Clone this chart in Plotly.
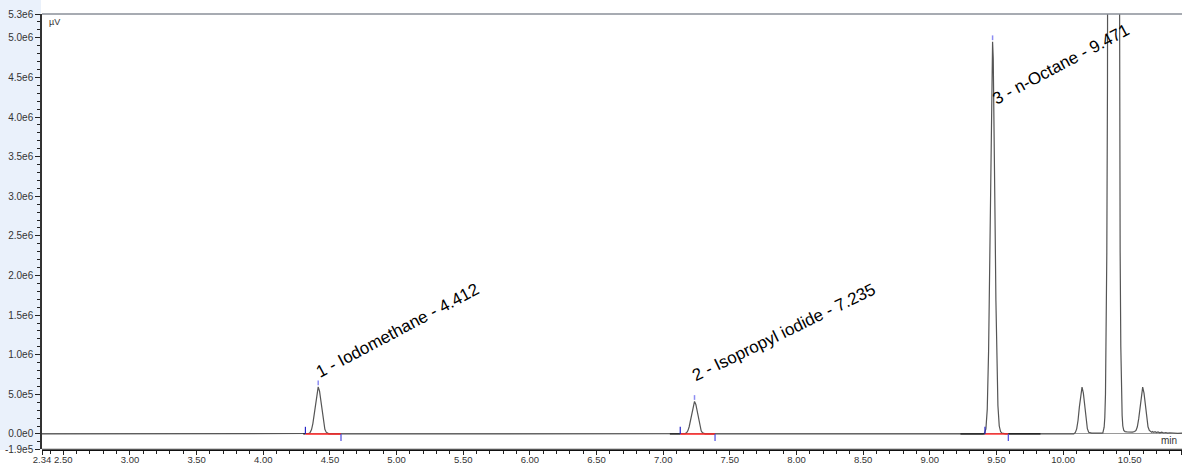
import plotly.graph_objects as go

# ---------------- data ----------------
time_min = [
    2.34, 4.30,
    4.332, 4.342, 4.352, 4.362, 4.372, 4.382, 4.392, 4.402, 4.412, 4.422, 4.432, 4.442, 4.452, 4.462, 4.472, 4.482, 4.492, 4.51,
    7.14, 7.155, 7.165, 7.175, 7.185, 7.195, 7.205, 7.215, 7.225, 7.235, 7.245, 7.255, 7.265, 7.275, 7.285, 7.295, 7.305, 7.315, 7.33,
    9.40, 9.411, 9.421, 9.431, 9.436, 9.441, 9.446, 9.451, 9.456, 9.461, 9.466, 9.471, 9.476, 9.481, 9.486, 9.491, 9.496, 9.501,
    9.506, 9.511, 9.521, 9.531, 9.541, 9.555, 9.57,
    10.08, 10.082, 10.092, 10.102, 10.112, 10.122, 10.132, 10.142, 10.152, 10.162, 10.172, 10.182, 10.192, 10.202, 10.215,
    10.29, 10.298, 10.308, 10.313, 10.318, 10.323, 10.328, 10.333, 10.338, 10.343, 10.348, 10.358, 10.368, 10.378, 10.388,
    10.398, 10.408, 10.413, 10.418, 10.423, 10.428, 10.433, 10.438, 10.443, 10.448, 10.455, 10.465, 10.48, 10.52,
    10.537, 10.547, 10.557, 10.567, 10.577, 10.587, 10.597, 10.607, 10.617, 10.627, 10.637, 10.647, 10.657,
    10.665, 10.672, 10.68, 10.69, 10.70, 10.712, 10.725, 10.74, 10.755, 10.77, 10.785, 10.80, 10.82, 10.84, 10.86, 10.90,
]
signal_e6 = [
    0.0, 0.0,
    0.001, 0.006, 0.020, 0.056, 0.131, 0.253, 0.406, 0.540, 0.593, 0.540, 0.406, 0.253, 0.131, 0.058, 0.022, 0.008, 0.002, 0.0,
    0.0, 0.001, 0.004, 0.014, 0.039, 0.091, 0.175, 0.281, 0.373, 0.410, 0.373, 0.281, 0.175, 0.091, 0.040, 0.015, 0.005, 0.001, 0.0,
    0.0, 0.01, 0.065, 0.31, 0.594, 1.04, 1.68, 2.48, 3.36, 4.16, 4.74, 4.95, 4.74, 4.16, 3.36, 2.48, 1.68, 1.06,
    0.62, 0.36, 0.10, 0.03, 0.01, 0.003, 0.0,
    0.0, 0.004, 0.018, 0.064, 0.170, 0.339, 0.514, 0.590, 0.514, 0.339, 0.170, 0.066, 0.022, 0.012, 0.010,
    0.010, 0.012, 0.085, 0.21, 0.50, 1.10, 2.29, 4.42, 7.96, 13.4, 21.0, 42.0, 63.6, 73.0, 63.6,
    42.0, 21.0, 13.4, 7.96, 4.42, 2.29, 1.10, 0.52, 0.23, 0.10, 0.045, 0.030, 0.025, 0.024,
    0.030, 0.045, 0.090, 0.190, 0.350, 0.515, 0.590, 0.515, 0.350, 0.190, 0.090, 0.045, 0.030,
    0.022, 0.030, 0.020, 0.028, 0.018, 0.026, 0.015, 0.022, 0.012, 0.018, 0.010, 0.015, 0.010, 0.013, 0.008, 0.010,
]
signal_uv = [v * 1e6 for v in signal_e6]

peak_names = ["Iodomethane", "Isopropyl iodide", "n-Octane"]
peak_rt = [4.412, 7.235, 9.471]
peak_apex = [0.593e6, 0.41e6, 4.95e6]
peak_start = [4.316, 7.128, 9.414]
peak_end = [4.583, 7.389, 9.589]
label_x = [5.01, 7.904, 9.985]
label_y = [1.30e6, 1.285e6, 4.66e6]
label_angle = [-28, -26, -28]

black_baseline_segments = [(4.30, 4.316), (7.05, 7.128), (9.23, 9.414), (9.589, 9.83)]

x_range = [2.34, 10.892]
y_range = [-1.9e5, 5.3e6]
x_tickvals = [2.34, 2.5, 3.0, 3.5, 4.0, 4.5, 5.0, 5.5, 6.0, 6.5, 7.0, 7.5, 8.0, 8.5, 9.0, 9.5, 10.0, 10.5, 10.89]
x_ticktext = ["2.34", "2.50", "3.00", "3.50", "4.00", "4.50", "5.00", "5.50", "6.00", "6.50", "7.00",
              "7.50", "8.00", "8.50", "9.00", "9.50", "10.00", "10.50", "10.89"]
y_tickvals = [-1.9e5, 0, 5e5, 1e6, 1.5e6, 2e6, 2.5e6, 3e6, 3.5e6, 4e6, 4.5e6, 5e6, 5.3e6]
y_ticktext = ["-1.9e5", "0.0e0", "5.0e5", "1.0e6", "1.5e6", "2.0e6", "2.5e6", "3.0e6", "3.5e6",
              "4.0e6", "4.5e6", "5.0e6", "5.3e6"]

# ---------------- figure ----------------
W, H = 1182, 466
ML, MR, MT, MB = 42, 0, 14, 16
FONT = "Arial, Liberation Sans, sans-serif"
TICK_UP = 0.09e6
APEX_GAP, APEX_LEN = 0.02e6, 0.06e6

fig = go.Figure()

# chromatogram
fig.add_trace(go.Scatter(x=time_min, y=signal_uv, mode="lines",
                         line=dict(color="#555555", width=1.2), hoverinfo="skip"))

# dark baseline segments
bx, by = [], []
for a, b in black_baseline_segments:
    bx += [a, b, None]
    by += [0, 0, None]
fig.add_trace(go.Scatter(x=bx, y=by, mode="lines", line=dict(color="#111111", width=1.2), hoverinfo="skip"))

# red integration baselines
rx, ry = [], []
for s, e in zip(peak_start, peak_end):
    rx += [s, e, None]
    ry += [0, 0, None]
fig.add_trace(go.Scatter(x=rx, y=ry, mode="lines", line=dict(color="#ff2020", width=1.4), hoverinfo="skip"))

# start / end / apex tick marks
sx, sy, ex, ey, ax_, ay_ = [], [], [], [], [], []
for s, e, rt, ap in zip(peak_start, peak_end, peak_rt, peak_apex):
    sx += [s, s, None]; sy += [0, TICK_UP, None]
    ex += [e, e, None]; ey += [0, -TICK_UP, None]
    ax_ += [rt, rt, None]; ay_ += [ap + APEX_GAP, ap + APEX_GAP + APEX_LEN, None]
fig.add_trace(go.Scatter(x=sx, y=sy, mode="lines", line=dict(color="#2626c8", width=1.2), hoverinfo="skip"))
fig.add_trace(go.Scatter(x=ex, y=ey, mode="lines", line=dict(color="#4a4ae0", width=1.2), hoverinfo="skip"))
fig.add_trace(go.Scatter(x=ax_, y=ay_, mode="lines", line=dict(color="#8c8cf2", width=1.5), hoverinfo="skip"))

# peak labels
for i, (name, rt, lx, ly, ang) in enumerate(zip(peak_names, peak_rt, label_x, label_y, label_angle), start=1):
    fig.add_annotation(x=lx, y=ly, xref="x", yref="y", text=f"{i} - {name} - {rt:.3f}",
                       showarrow=False, textangle=ang, xanchor="center", yanchor="middle",
                       font=dict(family=FONT, size=17, color="#000000"))

ph = H - MT - MB
pw = W - ML - MR

# units
fig.add_annotation(x=5 / pw, y=1 - 8 / ph, xref="paper", yref="paper", text="µV", showarrow=False,
                   xanchor="left", yanchor="middle", font=dict(family=FONT, size=9, color="#333333"))
fig.add_annotation(x=1 - 3 / pw, y=10 / ph, xref="paper", yref="paper", text="min", showarrow=False,
                   xanchor="right", yanchor="middle", font=dict(family=FONT, size=10, color="#333333"))

# left light-blue strip
fig.add_shape(type="rect", xref="paper", yref="paper", x0=-ML / pw, x1=-1 / pw, y0=0, y1=1 + MT / ph,
              fillcolor="#eaf1fb", line=dict(width=0), layer="below")
# top border
fig.add_shape(type="line", xref="paper", yref="paper", x0=0, x1=1, y0=1, y1=1,
              line=dict(color="#8a8f99", width=1.5))
# plot frame bottom
fig.add_shape(type="line", xref="paper", yref="y domain", x0=0, x1=1, y0=0, y1=0,
              line=dict(color="#9a9a9a", width=1))

fig.update_layout(
    width=W, height=H,
    margin=dict(l=ML, r=MR, t=MT, b=MB, pad=0, autoexpand=False),
    paper_bgcolor="white", plot_bgcolor="white",
    showlegend=False,
    font=dict(family=FONT, size=10, color="#333333"),
    xaxis=dict(range=x_range, anchor="free", position=0, automargin=False, tickangle=0,
               tickmode="array", tickvals=x_tickvals, ticktext=x_ticktext,
               ticks="outside", ticklen=4, tickwidth=1, tickcolor="#222222",
               ticklabelstandoff=-3,
               showline=True, linecolor="#111111", linewidth=1.5,
               showgrid=False, zeroline=False,
               tickfont=dict(family=FONT, size=9.5, color="#333333"),
               minor=dict(tickmode="linear", tick0=0, dtick=0.1, ticks="outside", ticklen=3,
                          tickcolor="#222222", showgrid=False)),
    yaxis=dict(range=y_range, domain=[1 / ph, 1], automargin=False, tickangle=0,
               tickmode="array", tickvals=y_tickvals, ticktext=y_ticktext,
               ticks="outside", ticklen=5, tickwidth=1, tickcolor="#222222",
               showline=True, linecolor="#333333", linewidth=1.5,
               showgrid=False, zeroline=True, zerolinecolor="#9a9a9a", zerolinewidth=1.2,
               tickfont=dict(family=FONT, size=10, color="#333333"),
               minor=dict(tickmode="linear", tick0=0, dtick=1e5, ticks="outside", ticklen=3,
                          tickcolor="#222222", showgrid=False)),
)

fig.write_html("out.html", config={"displayModeBar": False},
               post_script="document.body.style.margin='0';document.body.style.overflow='hidden';")
